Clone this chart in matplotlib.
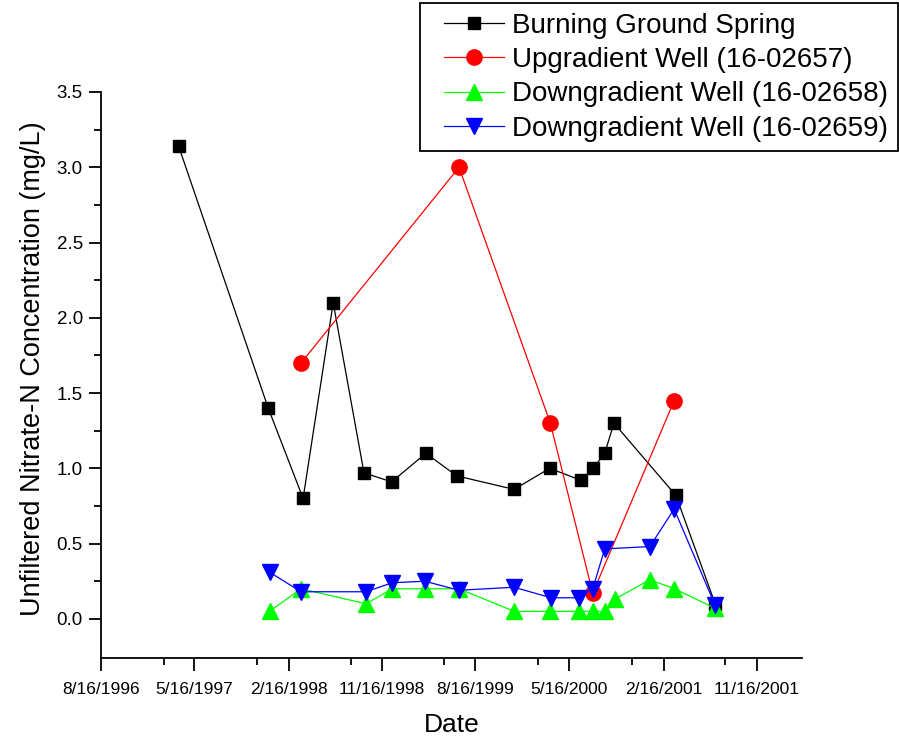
import numpy as np
import pandas as pd
import matplotlib
matplotlib.use("Agg")
import matplotlib.pyplot as plt
from matplotlib.legend_handler import HandlerLine2D
from matplotlib.lines import Line2D

plt.rcParams['font.family'] = ['Liberation Sans', 'DejaVu Sans']

# --- data ---
spring_dates = ["1997-03-31", "1997-12-18", "1998-03-30", "1998-06-26", "1998-09-24",
                "1998-12-14", "1999-03-24", "1999-06-22", "1999-12-07", "2000-03-20",
                "2000-06-20", "2000-07-25", "2000-08-28", "2000-09-24", "2001-03-24",
                "2001-07-17"]
spring_vals = [3.14, 1.40, 0.80, 2.10, 0.97, 0.91, 1.10, 0.95, 0.86, 1.00,
               0.92, 1.00, 1.10, 1.30, 0.82, 0.10]

up_dates = ["1998-03-24", "1999-06-29", "2000-03-22", "2000-07-24", "2001-03-19"]
up_vals = [1.70, 3.00, 1.30, 0.17, 1.45]

dn58_dates = ["1997-12-22", "1998-03-24", "1998-09-30", "1998-12-16", "1999-03-21",
              "1999-06-29", "1999-12-07", "2000-03-21", "2000-06-13", "2000-07-24",
              "2000-08-30", "2000-09-26", "2001-01-07", "2001-03-20", "2001-07-17"]
dn58_vals = [0.05, 0.20, 0.10, 0.20, 0.20, 0.20, 0.05, 0.05, 0.05, 0.05,
             0.05, 0.13, 0.26, 0.20, 0.07]

dn59_dates = ["1997-12-22", "1998-03-24", "1998-09-30", "1998-12-16", "1999-03-21",
              "1999-06-29", "1999-12-07", "2000-03-24", "2000-06-13", "2000-07-24",
              "2000-08-28", "2001-01-07", "2001-03-19", "2001-07-17"]
dn59_vals = [0.31, 0.18, 0.18, 0.24, 0.25, 0.19, 0.21, 0.14, 0.14, 0.20,
             0.465, 0.48, 0.73, 0.09]

tick_dates = ["1996-08-16", "1997-05-16", "1998-02-16", "1998-11-16",
              "1999-08-16", "2000-05-16", "2001-02-16", "2001-11-16"]
tick_labels = ["8/16/1996", "5/16/1997", "2/16/1998", "11/16/1998",
               "8/16/1999", "5/16/2000", "2/16/2001", "11/16/2001"]

fig = plt.figure(figsize=(8.99, 7.38), dpi=100)
ax = fig.add_axes([101 / 899, 80 / 738, 700.7 / 899, 566 / 738])

ax.plot(pd.to_datetime(spring_dates), spring_vals, color='black', lw=0.9,
        marker='s', ms=9.3, label='Burning Ground Spring')
ax.plot(pd.to_datetime(up_dates), up_vals, color='#ff0000', lw=0.9,
        marker='o', ms=11, label='Upgradient Well (16-02657)')
ax.plot(pd.to_datetime(dn58_dates), dn58_vals, color='#00ff00', lw=0.9,
        marker='^', ms=12, label='Downgradient Well (16-02658)')
ax.plot(pd.to_datetime(dn59_dates), dn59_vals, color='#0000ff', lw=0.9,
        marker='v', ms=12, label='Downgradient Well (16-02659)')

# ticks first, limits after (set_xticks would widen the view otherwise)
ax.set_xticks(pd.to_datetime(tick_dates))
ax.set_xticklabels(tick_labels, fontsize=12.5)
minor = [pd.Timestamp(d) + pd.DateOffset(months=6) for d in tick_dates]
ax.set_xticks(minor, minor=True)

ax.set_yticks(np.arange(0, 3.51, 0.5))
ax.set_yticklabels([f"{v:.1f}" for v in np.arange(0, 3.51, 0.5)], fontsize=13.5)
ax.set_yticks(np.arange(0.25, 3.5, 0.5), minor=True)

ax.set_xlim(pd.Timestamp("1996-08-16"), pd.Timestamp("2002-03-27"))
ax.set_ylim(-0.26, 3.5)

ax.spines['top'].set_visible(False)
ax.spines['right'].set_visible(False)
for s in ['left', 'bottom']:
    ax.spines[s].set_linewidth(1.3)

ax.tick_params(axis='both', which='major', direction='out', length=9, width=1.3, pad=4)
ax.tick_params(axis='x', which='major', pad=8)
ax.tick_params(axis='both', which='minor', direction='out', length=5, width=1.3)

ax.set_xlabel("Date", fontsize=19, labelpad=12)
ax.set_ylabel("Unfiltered Nitrate-N Concentration (mg/L)", fontsize=19.5, labelpad=8)
ax.yaxis.label.set_y(0.512)

leg = fig.legend(loc='upper right', bbox_to_anchor=(898 / 899, 735 / 738),
                 fontsize=20, frameon=True, fancybox=False, edgecolor='black',
                 framealpha=1, handlelength=2.67, handletextpad=0.29,
                 labelspacing=0.3, borderpad=0.35, borderaxespad=0,
                 handler_map={Line2D: HandlerLine2D(xpad=0.5)})
leg.get_frame().set_linewidth(1.3)

fig.savefig("out.png", dpi=100)
